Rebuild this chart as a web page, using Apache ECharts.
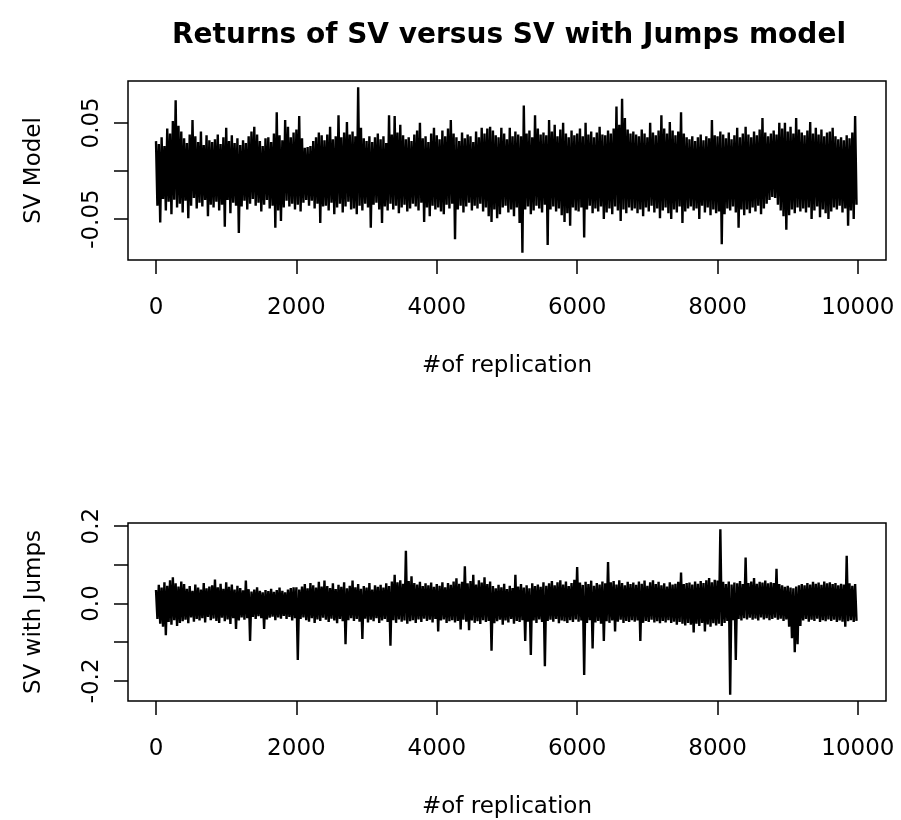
<!DOCTYPE html>
<html><head><meta charset="utf-8">
<script src="https://cdn.jsdelivr.net/npm/echarts@6/dist/echarts.min.js"></script>
<style>html,body{margin:0;padding:0;background:#fff}#chart{width:901px;height:820px}</style>
</head><body><div id="chart"></div>
<script>
const chartTitle = 'Returns of SV versus SV with Jumps model';
const xTitle = '#of replication';
const topYTitle = 'SV Model';
const bottomYTitle = 'SV with Jumps';
const replicationStep = 20;
const xTicks = [0, 2000, 4000, 6000, 8000, 10000];
const topYTicks = [-0.05, 0, 0.05];
const topYTickLabels = [-0.05, 0.05];
const bottomYTicks = [-0.2, -0.1, 0, 0.1, 0.2];
const bottomYTickLabels = [-0.2, 0, 0.2];

// SV model returns, one value every 20 replications
const svModelReturns = [
0.031,-0.036,0.028,-0.0535,0.035,-0.029,0.026,-0.041,0.044,-0.032,0.039,-0.045,0.052,-0.03,0.0735,-0.038,0.047,-0.034,0.041,-0.043,
0.034,-0.031,0.029,-0.049,0.038,-0.036,0.053,-0.028,0.036,-0.039,0.03,-0.033,0.041,-0.037,0.027,-0.03,0.037,-0.047,0.032,-0.035,
0.03,-0.038,0.033,-0.032,0.038,-0.041,0.028,-0.035,0.035,-0.058,0.045,-0.03,0.031,-0.044,0.037,-0.033,0.029,-0.036,0.034,-0.0645,
0.027,-0.037,0.032,-0.031,0.029,-0.04,0.036,-0.034,0.041,-0.029,0.046,-0.036,0.038,-0.033,0.031,-0.042,0.026,-0.035,0.034,-0.03,
0.035,-0.039,0.03,-0.036,0.039,-0.059,0.061,-0.041,0.037,-0.052,0.032,-0.038,0.053,-0.031,0.046,-0.037,0.035,-0.034,0.04,-0.04,
0.043,-0.035,0.057,-0.042,0.034,-0.033,0.024,-0.03,0.025,-0.036,0.026,-0.031,0.031,-0.039,0.035,-0.034,0.04,-0.054,0.037,-0.037,
0.032,-0.036,0.038,-0.041,0.046,-0.033,0.033,-0.045,0.036,-0.038,0.058,-0.034,0.035,-0.043,0.04,-0.037,0.051,-0.032,0.038,-0.04,
0.041,-0.039,0.036,-0.045,0.087,-0.036,0.045,-0.041,0.034,-0.034,0.031,-0.038,0.036,-0.059,0.03,-0.035,0.035,-0.033,0.039,-0.04,
0.033,-0.054,0.036,-0.037,0.029,-0.041,0.058,-0.034,0.038,-0.04,0.057,-0.036,0.04,-0.044,0.048,-0.038,0.037,-0.035,0.033,-0.042,
0.035,-0.039,0.031,-0.034,0.038,-0.037,0.042,-0.041,0.05,-0.033,0.034,-0.053,0.036,-0.038,0.03,-0.047,0.039,-0.036,0.045,-0.04,
0.037,-0.038,0.033,-0.042,0.042,-0.045,0.036,-0.035,0.044,-0.039,0.053,-0.034,0.039,-0.071,0.035,-0.04,0.031,-0.036,0.04,-0.043,
0.034,-0.037,0.038,-0.033,0.036,-0.041,0.03,-0.036,0.041,-0.039,0.035,-0.034,0.045,-0.042,0.039,-0.038,0.044,-0.047,0.046,-0.053,
0.042,-0.04,0.037,-0.049,0.035,-0.045,0.045,-0.038,0.039,-0.036,0.033,-0.043,0.045,-0.04,0.036,-0.047,0.041,-0.038,0.038,-0.054,
0.036,-0.085,0.068,-0.04,0.039,-0.037,0.042,-0.045,0.035,-0.041,0.058,-0.036,0.044,-0.039,0.038,-0.043,0.04,-0.035,0.037,-0.077,
0.053,-0.04,0.041,-0.037,0.048,-0.042,0.036,-0.039,0.043,-0.046,0.05,-0.053,0.039,-0.044,0.035,-0.057,0.042,-0.038,0.037,-0.041,
0.039,-0.042,0.044,-0.038,0.036,-0.069,0.05,-0.04,0.038,-0.036,0.041,-0.044,0.035,-0.039,0.04,-0.042,0.046,-0.037,0.038,-0.05,
0.037,-0.043,0.042,-0.039,0.039,-0.045,0.044,-0.037,0.067,-0.041,0.048,-0.052,0.075,-0.04,0.055,-0.044,0.043,-0.038,0.039,-0.041,
0.041,-0.039,0.038,-0.044,0.036,-0.04,0.043,-0.047,0.039,-0.038,0.035,-0.042,0.05,-0.036,0.04,-0.043,0.037,-0.039,0.042,-0.049,
0.058,-0.041,0.044,-0.038,0.039,-0.044,0.051,-0.05,0.042,-0.04,0.037,-0.043,0.041,-0.037,0.061,-0.054,0.039,-0.042,0.035,-0.039,
0.033,-0.037,0.036,-0.041,0.031,-0.039,0.035,-0.05,0.038,-0.036,0.032,-0.043,0.036,-0.038,0.034,-0.046,0.053,-0.04,0.037,-0.044,
0.036,-0.042,0.041,-0.076,0.038,-0.045,0.034,-0.039,0.04,-0.041,0.033,-0.037,0.037,-0.043,0.045,-0.059,0.035,-0.04,0.039,-0.046,
0.046,-0.04,0.038,-0.044,0.035,-0.038,0.041,-0.042,0.037,-0.036,0.043,-0.045,0.055,-0.039,0.04,-0.034,0.036,-0.03,0.039,-0.027,
0.042,-0.028,0.038,-0.035,0.05,-0.041,0.044,-0.047,0.05,-0.061,0.041,-0.046,0.046,-0.04,0.039,-0.044,0.055,-0.038,0.043,-0.042,
0.04,-0.039,0.037,-0.043,0.042,-0.038,0.051,-0.05,0.039,-0.041,0.045,-0.037,0.038,-0.048,0.043,-0.04,0.036,-0.044,0.04,-0.05,
0.041,-0.042,0.045,-0.038,0.036,-0.04,0.033,-0.036,0.035,-0.043,0.032,-0.039,0.037,-0.057,0.034,-0.041,0.04,-0.05,0.057,-0.035
];

// SV with jumps returns, one value every 20 replications
const svJumpsReturns = [
0.035,-0.04,0.048,-0.052,0.041,-0.06,0.055,-0.082,0.046,-0.048,0.06,-0.055,0.068,-0.043,0.052,-0.058,0.044,-0.05,0.057,-0.046,
0.05,-0.042,0.038,-0.051,0.045,-0.036,0.033,-0.047,0.049,-0.04,0.041,-0.044,0.036,-0.038,0.053,-0.049,0.039,-0.035,0.044,-0.043,
0.047,-0.039,0.062,-0.045,0.042,-0.05,0.051,-0.037,0.038,-0.046,0.055,-0.041,0.043,-0.053,0.049,-0.038,0.036,-0.066,0.046,-0.044,
0.04,-0.036,0.034,-0.042,0.059,-0.038,0.037,-0.097,0.031,-0.035,0.036,-0.04,0.042,-0.033,0.033,-0.038,0.029,-0.066,0.035,-0.041,
0.032,-0.037,0.038,-0.034,0.03,-0.043,0.035,-0.036,0.041,-0.039,0.033,-0.032,0.029,-0.04,0.036,-0.035,0.04,-0.044,0.042,-0.038,
0.042,-0.146,0.036,-0.04,0.044,-0.036,0.05,-0.043,0.039,-0.047,0.053,-0.038,0.047,-0.05,0.041,-0.041,0.056,-0.045,0.044,-0.037,
0.059,-0.042,0.045,-0.048,0.04,-0.039,0.052,-0.044,0.037,-0.051,0.048,-0.04,0.043,-0.046,0.055,-0.105,0.039,-0.043,0.046,-0.038,
0.059,-0.045,0.042,-0.04,0.05,-0.047,0.038,-0.092,0.045,-0.039,0.041,-0.049,0.053,-0.042,0.036,-0.046,0.047,-0.038,0.043,-0.05,
0.048,-0.044,0.041,-0.04,0.052,-0.048,0.045,-0.109,0.057,-0.043,0.074,-0.05,0.055,-0.041,0.06,-0.047,0.051,-0.044,0.136,-0.052,
0.058,-0.046,0.07,-0.043,0.053,-0.05,0.049,-0.041,0.056,-0.048,0.045,-0.039,0.052,-0.045,0.047,-0.042,0.054,-0.049,0.043,-0.04,
0.05,-0.072,0.046,-0.044,0.055,-0.041,0.042,-0.05,0.053,-0.046,0.048,-0.043,0.057,-0.049,0.065,-0.045,0.051,-0.067,0.056,-0.042,
0.096,-0.047,0.052,-0.069,0.058,-0.044,0.074,-0.05,0.049,-0.046,0.06,-0.053,0.054,-0.043,0.068,-0.048,0.05,-0.045,0.057,-0.122,
0.045,-0.051,0.039,-0.046,0.048,-0.042,0.042,-0.055,0.051,-0.044,0.037,-0.049,0.046,-0.04,0.04,-0.052,0.074,-0.045,0.044,-0.048,
0.05,-0.043,0.041,-0.097,0.047,-0.047,0.039,-0.133,0.052,-0.044,0.045,-0.05,0.049,-0.041,0.043,-0.048,0.055,-0.162,0.046,-0.045,
0.052,-0.042,0.058,-0.047,0.047,-0.04,0.055,-0.051,0.06,-0.044,0.049,-0.046,0.057,-0.05,0.045,-0.043,0.053,-0.048,0.061,-0.041,
0.094,-0.047,0.054,-0.044,0.048,-0.185,0.056,-0.05,0.05,-0.043,0.059,-0.116,0.046,-0.049,0.053,-0.045,0.049,-0.052,0.057,-0.097,
0.052,-0.046,0.107,-0.05,0.055,-0.044,0.058,-0.072,0.049,-0.047,0.06,-0.042,0.053,-0.05,0.047,-0.045,0.056,-0.048,0.05,-0.043,
0.054,-0.047,0.048,-0.044,0.057,-0.097,0.051,-0.05,0.059,-0.045,0.046,-0.048,0.055,-0.042,0.06,-0.049,0.05,-0.046,0.056,-0.051,
0.047,-0.045,0.052,-0.049,0.044,-0.043,0.055,-0.05,0.049,-0.047,0.051,-0.055,0.056,-0.048,0.08,-0.052,0.05,-0.057,0.053,-0.05,
0.054,-0.055,0.049,-0.075,0.057,-0.052,0.051,-0.058,0.058,-0.05,0.053,-0.072,0.06,-0.054,0.066,-0.06,0.055,-0.051,0.061,-0.057,
0.059,-0.052,0.192,-0.058,0.056,-0.05,0.05,-0.045,0.057,-0.236,0.049,-0.043,0.054,-0.146,0.052,-0.04,0.058,-0.044,0.05,-0.038,
0.119,-0.041,0.053,-0.037,0.057,-0.042,0.066,-0.039,0.051,-0.044,0.056,-0.036,0.054,-0.041,0.059,-0.038,0.052,-0.043,0.055,-0.04,
0.053,-0.037,0.09,-0.042,0.05,-0.039,0.047,-0.045,0.043,-0.041,0.046,-0.06,0.041,-0.09,0.039,-0.126,0.044,-0.105,0.047,-0.058,
0.05,-0.044,0.047,-0.04,0.053,-0.047,0.049,-0.042,0.056,-0.045,0.051,-0.039,0.054,-0.048,0.048,-0.043,0.057,-0.046,0.052,-0.041,
0.055,-0.045,0.05,-0.042,0.053,-0.048,0.047,-0.044,0.051,-0.047,0.049,-0.06,0.123,-0.046,0.052,-0.043,0.046,-0.048,0.05,-0.045
];

const font = 'DejaVu Sans';
const black = '#000';
const textStyle = { fontSize: 23, fontFamily: font, color: black };

function xAxisCfg(gridIndex) {
  return {
    gridIndex, type: 'value', min: -399, max: 10400,
    axisLine: { show: false, onZero: false }, splitLine: { show: false },
    axisTick: { show: true, customValues: xTicks, length: 14, lineStyle: { color: black, width: 1.5 } },
    axisLabel: Object.assign({ customValues: xTicks, margin: 37, formatter: v => String(v) }, textStyle),
    name: xTitle, nameLocation: 'middle', nameGap: 95, nameTextStyle: Object.assign({}, textStyle)
  };
}
function yAxisCfg(gridIndex, min, max, ticks, labels, digits, title, gap) {
  return {
    gridIndex, type: 'value', min, max,
    axisLine: { show: false, onZero: false }, splitLine: { show: false },
    axisTick: { show: true, customValues: ticks, length: 14, lineStyle: { color: black, width: 1.5 } },
    axisLabel: Object.assign({ customValues: labels, rotate: 90, margin: 24, formatter: v => Number(v).toFixed(digits) }, textStyle),
    name: title, nameLocation: 'middle', nameGap: gap, nameTextStyle: Object.assign({}, textStyle)
  };
}
function lineSeries(idx, values) {
  return {
    type: 'line', xAxisIndex: idx, yAxisIndex: idx,
    data: values.map((v, i) => [i * replicationStep, v]),
    showSymbol: false, symbol: 'none', silent: true, animation: false,
    lineStyle: { color: black, width: 2.4, join: 'bevel' }
  };
}

const chart = echarts.init(document.getElementById('chart'), null, { renderer: 'canvas' });
chart.setOption({
  backgroundColor: '#fff',
  animation: false,
  title: {
    text: chartTitle, left: 504, top: 17, textAlign: 'center',
    textStyle: { fontSize: 28, fontWeight: 'bold', fontFamily: font, color: black }
  },
  grid: [
    { left: 128, top: 81, width: 758, height: 179, show: true, borderColor: black, borderWidth: 1.5, backgroundColor: 'transparent' },
    { left: 128, top: 523, width: 758, height: 179, show: true, borderColor: black, borderWidth: 1.5, backgroundColor: 'transparent' }
  ],
  xAxis: [xAxisCfg(0), xAxisCfg(1)],
  yAxis: [
    yAxisCfg(0, -0.0925, 0.0935, topYTicks, topYTickLabels, 2, topYTitle, 82),
    yAxisCfg(1, -0.252, 0.208, bottomYTicks, bottomYTickLabels, 1, bottomYTitle, 82)
  ],
  series: [lineSeries(0, svModelReturns), lineSeries(1, svJumpsReturns)]
});
</script>
</body></html>
